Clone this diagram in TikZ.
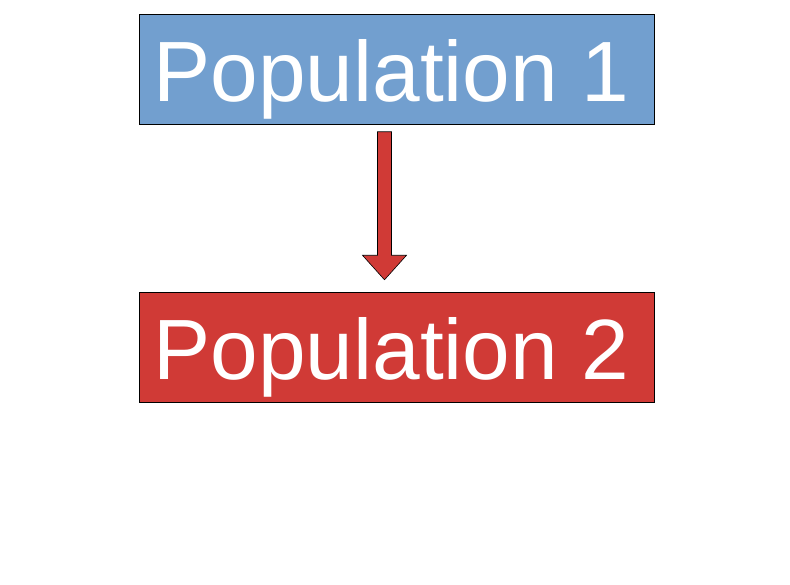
\documentclass[tikz,border=0pt]{standalone}
\usepackage{fontspec}
\setmainfont{Liberation Sans}
\usetikzlibrary{positioning,calc}
\definecolor{popblue}{HTML}{729FCF}
\definecolor{popred}{HTML}{D03A36}
\tikzset{
  popbox/.style={draw=black,line width=0.6pt,minimum width=515pt,minimum height=110pt,inner sep=0pt},
  poptext/.style={text=white,font=\fontsize{85.6}{86}\selectfont,anchor=base,inner sep=0pt}
}
\begin{document}
\begin{tikzpicture}[x=1pt,y=-1pt]
                \useasboundingbox (0,0) rectangle (790,585);

                \node[popbox,fill=popblue] (pop1) at (396.5,69) {};
                \node[popbox,fill=popred,below=168pt of pop1] (pop2) {};

                \node[poptext] (lab1) at (391.5,102) {Population 1};
                \node[poptext] (lab2) at (391.5,380) {Population 2};

                % block arrow between the boxes
                \draw[fill=popred,line width=0.6pt]
                    ($(pop1.south)+(-19,7.5)$) -- ($(pop1.south)+(-5,7.5)$)
                    -- ($(pop2.north)+(-5,-37)$) -- ($(pop2.north)+(10,-37)$)
                    -- ($(pop2.north)+(-12,-12.5)$) -- ($(pop2.north)+(-34,-37)$)
                    -- ($(pop2.north)+(-19,-37)$) -- cycle;
\end{tikzpicture}
\end{document}
